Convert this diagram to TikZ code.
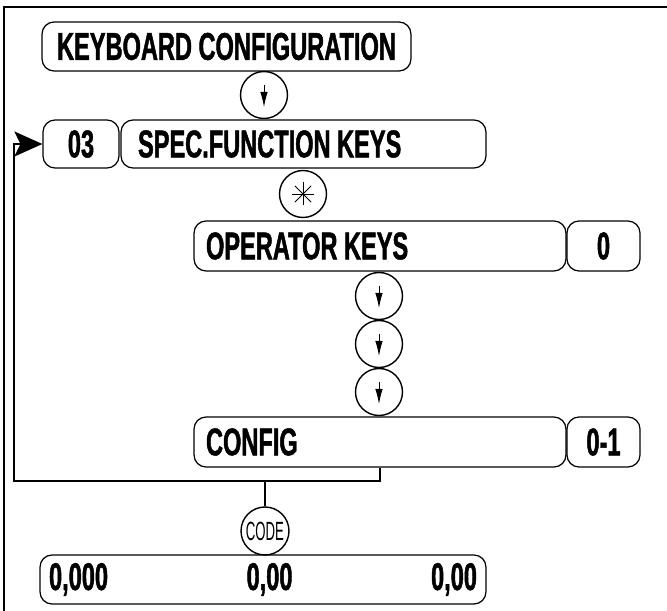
\documentclass[tikz,border=0pt]{standalone}
\usepackage{fontspec}
\usepackage{tikz}
\usetikzlibrary{arrows.meta,shapes.geometric}
\newfontfamily\keyfont{Liberation Sans}[FakeStretch=0.61, FakeBold=1.2]
\newfontfamily\codefont{Liberation Sans}[FakeStretch=0.5]
\tikzset{
  keybox/.style={rectangle, rounded corners=0.24cm, draw, line width=0.7pt,
                 minimum height=0.98cm, inner ysep=0pt,
                 font=\keyfont\bfseries\fontsize{22pt}{24pt}\selectfont},
  txtbox/.style={keybox, align=flush left, inner xsep=0.24cm, text width=#1},
  keyc/.style={circle, draw, line width=0.8pt, inner sep=0pt, minimum size=0.94cm},
  dn/.style={-{Latex[length=0.3cm,width=0.15cm]}, line width=0.5pt},
  fb/.style={line width=0.9pt, -{Stealth[length=0.56cm,width=0.5cm,inset=0.12cm]}},
  ln/.style={line width=0.9pt}
}
\begin{document}
\begin{tikzpicture}[x=0.02cm, y=-0.02cm]
\useasboundingbox (0,0) rectangle (667,611);
\draw[line width=0.7pt] (4,7) rectangle (700,650);
% menu head
\node[keybox, minimum width=7.38cm] (kb) at (226.5,46.5) {KEYBOARD CONFIGURATION};
\node[keyc] (k1) at (264,95) {};
\node[keybox, minimum width=1.52cm, minimum height=0.96cm] (n03) at (81,144) {03};
\node[txtbox=6.62cm, inner xsep=0.34cm, minimum height=0.96cm] (spec) at (303.5,144) {SPEC.FUNCTION KEYS};
\node[keyc] (star) at (303,194) {};
% operator keys
\node[txtbox=6.96cm, minimum height=1cm] (oper) at (380,246) {OPERATOR KEYS};
\node[keybox, minimum width=1.46cm, minimum height=1cm] (zero) at (603.5,246) {0};
\node[keyc] (d1) at (379,296) {};
\node[keyc] (d2) at (379,344) {};
\node[keyc] (d3) at (379,392) {};
\node[txtbox=6.96cm, minimum height=1cm] (conf) at (380,442) {CONFIG};
\node[keybox, minimum width=1.46cm, minimum height=1cm] (cval) at (603.5,442) {0-1};
% code entry
\node[keyc, minimum size=0.96cm, font=\codefont\fontsize{15pt}{15pt}\selectfont] (code) at (265,531) {CODE};
\node[txtbox=8.56cm, inner xsep=0.18cm] (vals) at (263,579.5) {0,000\hfill 0,00\hfill 0,00\hspace*{0.3cm}};
% arrows in the keys
\draw[dn] ([yshift=0.2cm]k1.center) -- ([yshift=-0.24cm]k1.center);
\draw[dn] ([yshift=0.2cm]d1.center) -- ([yshift=-0.24cm]d1.center);
\draw[dn] ([yshift=0.2cm]d2.center) -- ([yshift=-0.24cm]d2.center);
\draw[dn] ([yshift=0.2cm]d3.center) -- ([yshift=-0.24cm]d3.center);
\foreach \a in {0,45,90,135}
  \draw[line width=0.5pt] (star.center) ++(\a:0.23cm) -- ++(\a+180:0.46cm);
% back to 03
\coordinate (lc) at (14,481);
\draw[fb] (conf.south) |- (lc) |- (n03.west);
\draw[ln] (code.north) -- (code.north |- lc);
\end{tikzpicture}
\end{document}
